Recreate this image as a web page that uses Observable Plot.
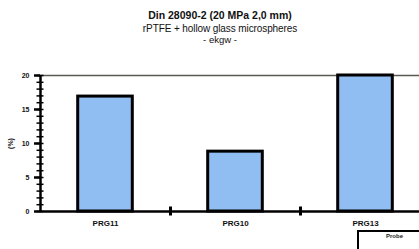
<!DOCTYPE html>
<html>
<head>
<meta charset="utf-8">
<script src="https://cdn.jsdelivr.net/npm/d3@7"></script>
<script src="https://cdn.jsdelivr.net/npm/@observablehq/plot@0.6"></script>
<style>
  html, body { margin: 0; padding: 0; background: #fff; overflow: hidden; }
  body { width: 419px; height: 249px; position: relative; font-family: "Liberation Sans", Arial, sans-serif; }
  .t { position: absolute; left: 20px; width: 400px; text-align: center; color: #111; white-space: nowrap; }
  #title { top: 9px; font-size: 10.5px; font-weight: bold; }
  #sub { top: 23px; font-size: 10px; letter-spacing: -0.1px; }
  #sub2 { top: 34px; font-size: 9.5px; }
  #chart { position: absolute; left: 0; top: 50px; }
  #legend { position: absolute; left: 357px; top: 230px; width: 80px; height: 30px; border: 2px solid #000; box-sizing: border-box; background: #fff; }
  #legend span { position: absolute; left: 27px; top: 1px; font-size: 6px; font-weight: bold; color: #222; }
</style>
</head>
<body>
<div class="t" id="title">Din 28090-2 (20 MPa 2,0 mm)</div>
<div class="t" id="sub">rPTFE + hollow glass microspheres</div>
<div class="t" id="sub2">- ekgw -</div>
<div id="chart"></div>
<div id="legend"><span>Probe</span></div>
<script>
const categories = ["PRG11", "PRG10", "PRG13"];
const values = [16.9, 8.8, 20];
const yTicks = [0, 5, 10, 15, 20];
const yMinorTicks = d3.range(0, 21, 1);
const separators = [0.5, 1.5];

const data = categories.map((c, i) => ({cat: c, idx: i, value: values[i]}));
const barHalf = 0.21;

const chart = Plot.plot({
  width: 419,
  height: 199,
  marginTop: 25,
  marginBottom: 38,
  marginLeft: 40,
  marginRight: 0,
  style: {fontFamily: "Liberation Sans, Arial, sans-serif", background: "#fff", color: "#111"},
  x: {type: "linear", domain: [-0.5, 2.5], range: [40, 430]},
  y: {domain: [0, 20]},
  marks: [
    Plot.ruleY([20], {stroke: "#5a5a50", strokeWidth: 1.5}),
    Plot.rectY(data, {
      x1: d => d.idx - barHalf,
      x2: d => d.idx + barHalf,
      y1: 0,
      y2: "value",
      fill: "#90bdf2",
      stroke: "#000",
      strokeWidth: 3
    }),
    Plot.ruleY([0], {stroke: "#000", strokeWidth: 2.5}),
    Plot.ruleX([-0.5], {y1: 0, y2: 20, stroke: "#000", strokeWidth: 2.5}),
    Plot.axisY({ticks: yMinorTicks, tickSize: 7, dx: 3.5, text: null, stroke: "#000", strokeWidth: 1.5, strokeOpacity: 1, label: null}),
    Plot.axisY({ticks: yTicks, tickSize: 6, tickPadding: 5, stroke: "#000", strokeWidth: 2.5, strokeOpacity: 1,
      fontSize: 7, fontWeight: "bold", label: "(%)", labelArrow: "none", labelAnchor: "center", labelOffset: 32}),
    Plot.axisX({ticks: separators, tickSize: 9, dy: -4.5, text: null, stroke: "#000", strokeWidth: 3, label: null}),
    Plot.axisX({ticks: [0, 1, 2], tickSize: 0, tickPadding: 9, tickFormat: i => categories[i],
      fontSize: 8, fontWeight: "bold", label: null, style: {letterSpacing: "0.5px"}})
  ]
});
document.getElementById("chart").appendChild(chart);
</script>
</body>
</html>
